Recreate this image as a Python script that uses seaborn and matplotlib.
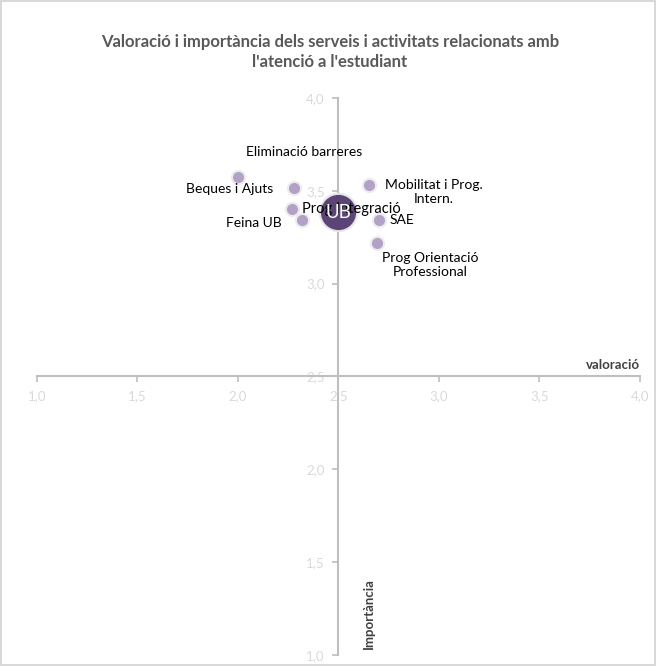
import matplotlib
matplotlib.use("Agg")
import matplotlib.pyplot as plt
import seaborn as sns
import pandas as pd

sns.set_theme(style="white")
plt.rcParams['font.family'] = ['Lato', 'DejaVu Sans']

services = ["Beques i Ajuts", "Eliminació barreres", "Mobilitat i Prog.\nIntern.",
            "Prog Integració", "Feina UB", "SAE", "Prog Orientació\nProfessional"]
valoracio = [2.00, 2.28, 2.65, 2.27, 2.32, 2.70, 2.69]
importancia = [3.575, 3.515, 3.53, 3.40, 3.34, 3.34, 3.22]
ub_valoracio = [2.50]
ub_importancia = [3.385]
ticks = [1.0, 1.5, 2.0, 2.5, 3.0, 3.5, 4.0]

df = pd.DataFrame({"servei": services, "valoracio": valoracio, "importancia": importancia})
df_ub = pd.DataFrame({"valoracio": ub_valoracio, "importancia": ub_importancia})

fig = plt.figure(figsize=(6.56, 6.66), dpi=100)
fig.patch.set_edgecolor("#d9d9d9")
fig.patch.set_linewidth(1.5)
ax = fig.add_axes([0.0564, 0.0165, 0.919, 0.8365])

sns.scatterplot(data=df, x="valoracio", y="importancia", ax=ax, s=90,
                color="#b3a2c7", edgecolor="#ececec", linewidth=1.5, zorder=3)
sns.scatterplot(data=df_ub, x="valoracio", y="importancia", ax=ax, s=720,
                color="#5b4476", edgecolor="#e6e6e6", linewidth=1.5, zorder=5)
ax.text(ub_valoracio[0], ub_importancia[0], "UB", color="white", fontsize=13.5,
        ha="center", va="center", zorder=7)

ax.set_xlim(1.0, 4.0)
ax.set_ylim(1.0, 4.0)
ax.set_xticks(ticks)
ax.set_yticks(ticks)
fmt = [f"{t:.1f}".replace(".", ",") for t in ticks]
ax.set_xticklabels(fmt)
ax.set_yticklabels(fmt)

for side in ["top", "right"]:
    ax.spines[side].set_visible(False)
ax.spines["left"].set_position(("data", 2.5))
ax.spines["bottom"].set_position(("data", 2.5))
for side in ["left", "bottom"]:
    ax.spines[side].set_color("#bfbfbf")
    ax.spines[side].set_linewidth(1.5)
ax.tick_params(axis="both", which="both", colors="#bfbfbf", labelcolor="#d9d9d9",
               labelsize=9.5, length=4, width=1.2, direction="out", pad=6,
               bottom=True, left=True)
ax.set_xlabel("")
ax.set_ylabel("")

# point labels
offsets = {
    "Beques i Ajuts": (-6, -9, "center", "center"),
    "Eliminació barreres": (7, 26, "center", "center"),
    "Mobilitat i Prog.\nIntern.": (12, -5, "left", "center"),
    "Prog Integració": (7, 0, "left", "center"),
    "Feina UB": (-15, -2, "right", "center"),
    "SAE": (8, 0, "left", "center"),
    "Prog Orientació\nProfessional": (4, -16, "left", "center"),
}
for name, x, y in zip(services, valoracio, importancia):
    dx, dy, ha, va = offsets[name]
    ax.annotate(name, (x, y), xytext=(dx, dy), textcoords="offset points",
                ha=ha, va=va, fontsize=10.5 if name == "Prog Integració" else 10,
                color="#000000", zorder=6, multialignment="center")

ax.text(4.0, 2.53, "valoració", fontsize=9.5, fontweight="bold", color="#404040",
        ha="right", va="bottom")
ax.text(2.65, 1.03, "Importància", fontsize=9.5, fontweight="bold", color="#404040",
        rotation=90, ha="center", va="bottom")

fig.text(0.503, 0.922, "Valoració i importància dels serveis i activitats relacionats amb\nl'atenció a l'estudiant",
         ha="center", va="center", fontsize=12, fontweight="bold", color="#595959",
         linespacing=1.35)

fig.savefig("out.png", dpi=100)
